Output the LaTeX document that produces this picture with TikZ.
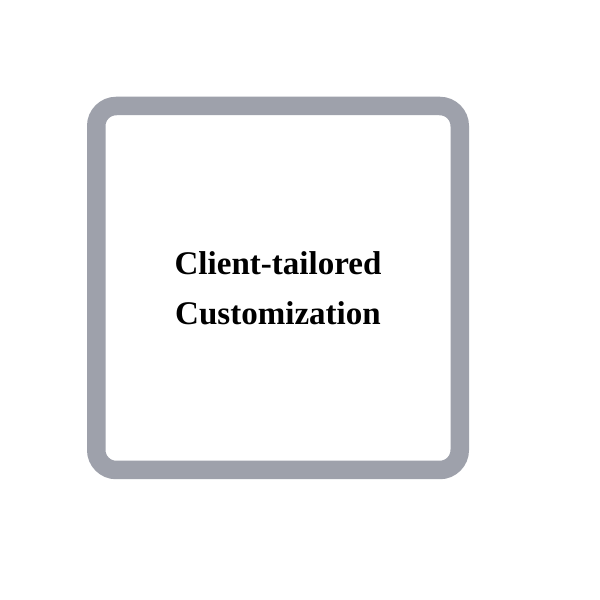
\documentclass[tikz,border=0pt]{standalone}
\usepackage{fontspec}
\setmainfont{Liberation Serif}
\definecolor{framegray}{RGB}{158,161,171}

\begin{document}
\begin{tikzpicture}
				\tikzstyle{card}=[draw=framegray, line width=0.185cm, rounded corners=0.2cm, minimum width=3.635cm, minimum height=3.64cm, fill=white]
				\tikzstyle{label}=[align=center, font=\fontsize{9.4}{14.2}\selectfont\bfseries]
				\newcommand\Xcard{2.78}
				\newcommand\Ycard{3.12}

				% Canvas
				\useasboundingbox (0,0) rectangle (6,6);
				\fill [white] (0,0) rectangle (6,6);

				 % Card
				\node [card] at (\Xcard,\Ycard) (box) {};
				\node [label] at (box.center) (title) {Client-tailored\\Customization};

			\end{tikzpicture}
\end{document}
